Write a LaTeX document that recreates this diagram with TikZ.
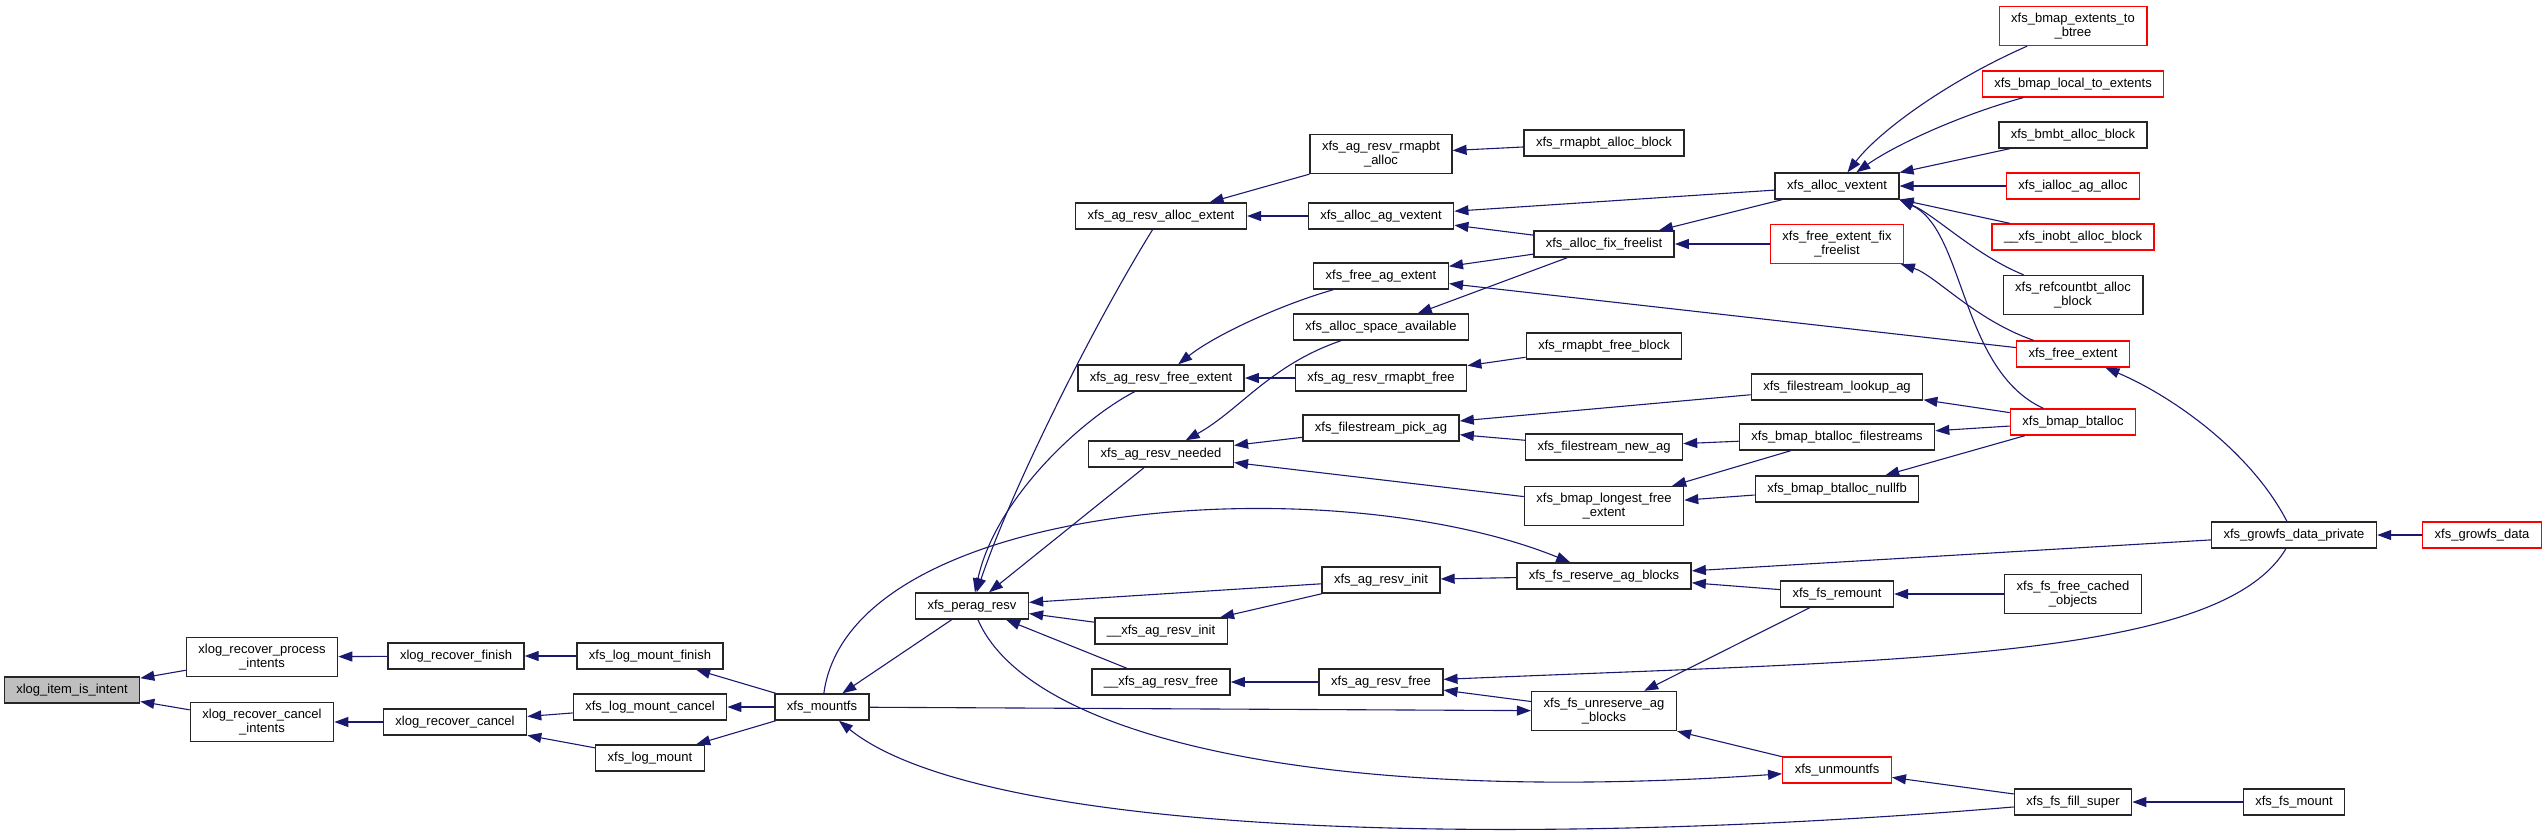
\documentclass[tikz,border=0pt]{standalone}
\usepackage{fontspec}
\setmainfont{Liberation Sans}
\usetikzlibrary{arrows.meta}
\definecolor{edgeblue}{RGB}{25,25,112}
\definecolor{rootgray}{RGB}{191,191,191}

\begin{document}
\begin{tikzpicture}[x=1pt, y=-1pt,
    fn/.style={draw=black!85, line width=1.4pt, fill=white, inner xsep=12pt, inner ysep=6.5pt,
        minimum height=26pt, align=center, font=\fontsize{13}{14}\selectfont},
    fnred/.style={fn, draw=red},
    call/.style={edgeblue, line width=1.1pt, -{Triangle[length=14pt, width=10pt]}}]
    \useasboundingbox (0,0) rectangle (2548,839);

    % 根节点
    \node[fn, fill=rootgray] (root) at (72,690) {xlog\_item\_is\_intent};

    % 黑框节点
    \foreach \n/\x/\y/\t in {rfinish/456/656/xlog\_recover\_finish, rcancel/455/722/xlog\_recover\_cancel,
        lmfinish/650/656/xfs\_log\_mount\_finish, lmcancel/650/707/xfs\_log\_mount\_cancel,
        logmount/650/758/xfs\_log\_mount, mountfs/822/707/xfs\_mountfs, perag/972/606/xfs\_perag\_resv,
        resvallocext/1161/216/xfs\_ag\_resv\_alloc\_extent, resvfreeext/1161/378/xfs\_ag\_resv\_free\_extent,
        needed/1161/454/xfs\_ag\_resv\_needed, uinit/1161/631/\_\_xfs\_ag\_resv\_init,
        ufree/1161/682/\_\_xfs\_ag\_resv\_free, agvext/1381/216/xfs\_alloc\_ag\_vextent,
        freeagext/1381/276/xfs\_free\_ag\_extent, spaceavail/1381/327/xfs\_alloc\_space\_available,
        rmapfree/1381/378/xfs\_ag\_resv\_rmapbt\_free, pickag/1381/428/xfs\_filestream\_pick\_ag,
        resvinit/1381/580/xfs\_ag\_resv\_init, resvfree/1381/682/xfs\_ag\_resv\_free,
        rmapallocblk/1604/143/xfs\_rmapbt\_alloc\_block, fixfree/1604/244/xfs\_alloc\_fix\_freelist,
        rmapfreeblk/1604/346/xfs\_rmapbt\_free\_block, newag/1604/447/xfs\_filestream\_new\_ag,
        reserve/1604/576/xfs\_fs\_reserve\_ag\_blocks, vextent/1837/186/xfs\_alloc\_vextent,
        lookupag/1837/387/xfs\_filestream\_lookup\_ag, btfs/1837/437/xfs\_bmap\_btalloc\_filestreams,
        nullfb/1837/489/xfs\_bmap\_btalloc\_nullfb, remount/1837/594/xfs\_fs\_remount,
        bmbtalloc/2073/135/xfs\_bmbt\_alloc\_block, fillsuper/2073/802/xfs\_fs\_fill\_super,
        gdp/2294/535/xfs\_growfs\_data\_private, fsmount/2294/802/xfs\_fs\_mount} {
        \node[fn] (\n) at (\x,\y) {\t};
    }

    % 两行的黑框节点
    \node[fn] (procint) at (262,657) {xlog\_recover\_process\\\_intents};
    \node[fn] (cancint) at (262,722) {xlog\_recover\_cancel\\\_intents};
    \node[fn] (rmapalloc) at (1381,154) {xfs\_ag\_resv\_rmapbt\\\_alloc};
    \node[fn] (longest) at (1604,506) {xfs\_bmap\_longest\_free\\\_extent};
    \node[fn] (unreserve) at (1604,711) {xfs\_fs\_unreserve\_ag\\\_blocks};
    \node[fn] (refcount) at (2073,295) {xfs\_refcountbt\_alloc\\\_block};
    \node[fn] (cached) at (2073,594) {xfs\_fs\_free\_cached\\\_objects};

    % 红框节点
    \foreach \n/\x/\y/\t in {localext/2073/84/xfs\_bmap\_local\_to\_extents,
        ialloc/2073/186/xfs\_ialloc\_ag\_alloc, inobt/2073/237/\_\_xfs\_inobt\_alloc\_block,
        freeextent/2073/354/xfs\_free\_extent, btalloc/2073/422/xfs\_bmap\_btalloc,
        unmountfs/1837/770/xfs\_unmountfs, growfs/2482/535/xfs\_growfs\_data} {
        \node[fnred] (\n) at (\x,\y) {\t};
    }
    \node[fnred] (tobtree) at (2073,26) {xfs\_bmap\_extents\_to\\\_btree};
    \node[fnred] (fefix) at (1837,244) {xfs\_free\_extent\_fix\\\_freelist};

    % 直线调用边
    \foreach \a/\b in {procint/root, cancint/root, rfinish/procint, rcancel/cancint,
        lmfinish/rfinish, lmcancel/rcancel, logmount/rcancel, mountfs/lmfinish, mountfs/lmcancel,
        mountfs/logmount, perag/mountfs, mountfs/unreserve, resvinit/perag, uinit/perag,
        needed/perag, ufree/perag, resvinit/uinit, resvfree/ufree, unreserve/resvfree,
        reserve/resvinit, gdp/reserve, remount/reserve, remount/unreserve, fillsuper/unmountfs,
        fsmount/fillsuper, cached/remount, growfs/gdp, rmapalloc/resvallocext, agvext/resvallocext,
        rmapallocblk/rmapalloc, vextent/agvext, fixfree/agvext, vextent/fixfree, fefix/fixfree,
        fixfree/freeagext, fixfree/spaceavail, freeextent/freeagext, rmapfree/resvfreeext,
        rmapfreeblk/rmapfree, pickag/needed, longest/needed, lookupag/pickag, newag/pickag,
        btfs/newag, btfs/longest, nullfb/longest, btalloc/lookupag, btalloc/btfs, btalloc/nullfb,
        bmbtalloc/vextent, ialloc/vextent, inobt/vextent} {
        \draw[call] (\a) -- (\b);
    }
    \draw[call] (unmountfs) -- (unreserve.south east);

    % 曲线调用边
    \draw[call] (resvallocext) .. controls (1091,329) and (1010,493) .. (perag);
    \draw[call] (resvfreeext) .. controls (1080,420) and (995,500) .. (perag);
    \draw[call] (fillsuper) .. controls (1500,850) and (980,835) .. (mountfs);
    \draw[call] (perag) .. controls (1030,740) and (1330,805) .. (unmountfs);
    \draw[call] (mountfs) .. controls (850,500) and (1330,465) .. (reserve);
    \draw[call] (gdp) .. controls (2220,660) and (1900,660) .. (resvfree);
    \draw[call] (freeagext) .. controls (1280,305) and (1215,335) .. (resvfreeext);
    \draw[call] (spaceavail) .. controls (1270,365) and (1240,410) .. (needed);
    \draw[call] (btalloc) .. controls (1960,370) and (1965,230) .. (vextent.south east);
    \draw[call] (tobtree) .. controls (1950,80) and (1880,130) .. (vextent);
    \draw[call] (localext) .. controls (1960,115) and (1895,145) .. (vextent);
    \draw[call] (refcount) .. controls (1975,255) and (1935,215) .. (vextent.south east);
    \draw[call] (freeextent) .. controls (1975,320) and (1935,275) .. (fefix);
    \draw[call] (gdp) .. controls (2250,450) and (2170,395) .. (freeextent);
\end{tikzpicture}
\end{document}
